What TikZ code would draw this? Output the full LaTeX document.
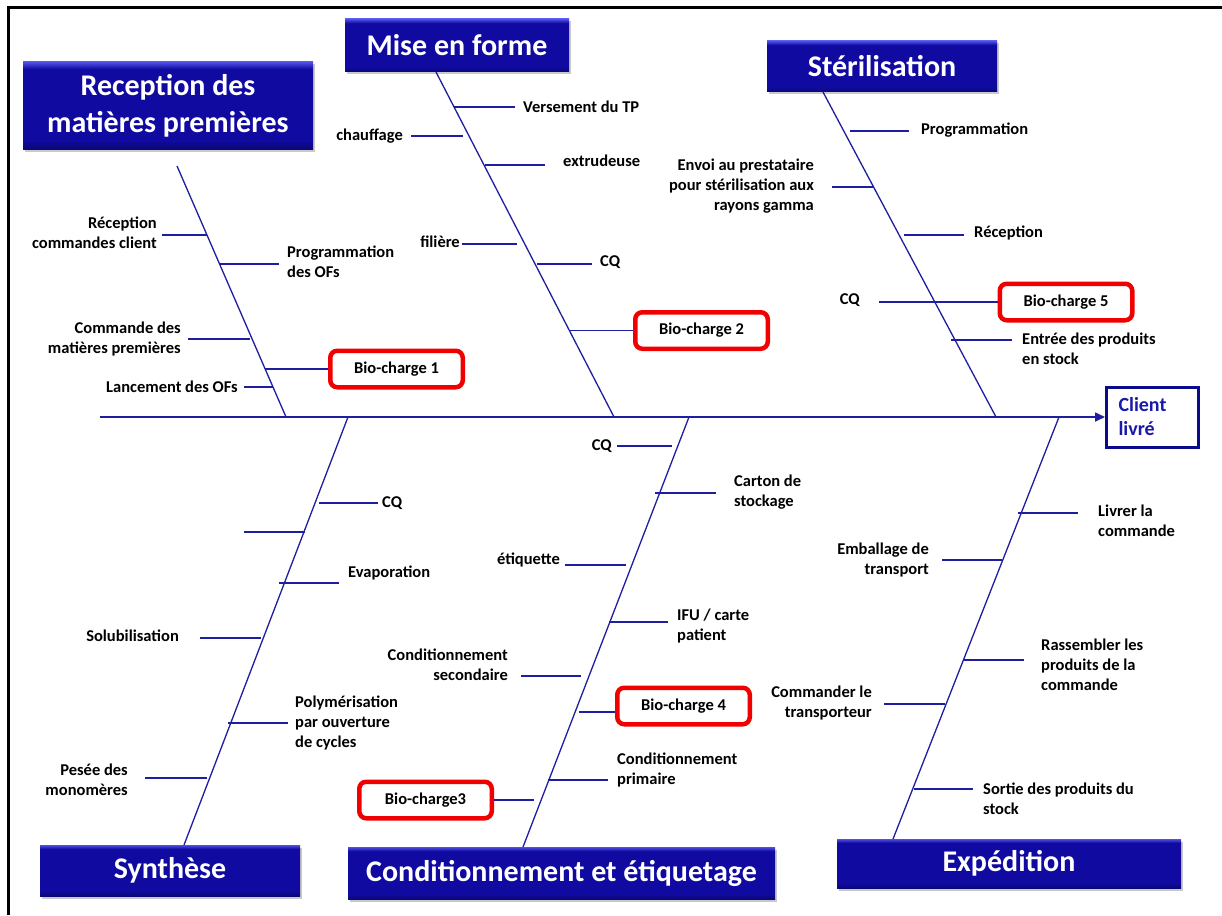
\documentclass[tikz,border=0pt]{standalone}
\usepackage{fontspec}
\setmainfont{Carlito}
\usetikzlibrary{arrows.meta,shadows}
\definecolor{bonec}{RGB}{30,30,160}
\definecolor{hdrM}{RGB}{16,10,160}
\definecolor{hdrA}{RGB}{80,80,230}
\definecolor{hdrB}{RGB}{10,8,118}
\definecolor{cliec}{RGB}{10,10,140}
\definecolor{clitxt}{RGB}{25,25,170}
\definecolor{bcred}{RGB}{240,0,0}
\pgfdeclareverticalshading{hdrshade}{100bp}{color(0bp)=(hdrB); color(25bp)=(hdrB); color(30bp)=(hdrM); color(71bp)=(hdrM); color(75bp)=(hdrA); color(100bp)=(hdrA)}
\newcommand\fbLbl{\fontsize{16.5}{20}\selectfont\bfseries}
\newcommand\fbHdr{\fontsize{30}{37}\selectfont\bfseries}
\newcommand\fbCli{\fontsize{20}{24}\selectfont\bfseries}
\begin{document}
\begin{tikzpicture}[x=1pt,y=-1pt,
  hdr/.style={shading=hdrshade, draw=none, text=white, font=\fbHdr, align=center, inner sep=0pt,
    drop shadow={shadow xshift=1.5pt,shadow yshift=-2.5pt,opacity=0.35,fill=black!60}},
  lbl/.style={font=\fbLbl, inner sep=0pt, text=black},
  lblL/.style={lbl, align=left, anchor=west},
  lblR/.style={lbl, align=right, anchor=east},
  bcbox/.style={draw=bcred, line width=4.5pt, rounded corners=7pt, fill=white, font=\fbLbl,
    minimum width=132.5pt, minimum height=36.5pt, inner sep=0pt},
  bone/.style={draw=bonec, line width=1.3pt},
  twig/.style={draw=bonec, line width=1.1pt},
]
\useasboundingbox (0,0) rectangle (1222,915);
\fill[white] (0,0) rectangle (1222,915);
% frame
\draw[line width=3pt] (8.5,915) -- (8.5,7.5) -- (1222,7.5);

% header boxes
\node[hdr, minimum width=290pt, minimum height=87pt] (rec) at (168,105.5) {Reception des\\matières premières};
\node[hdr, minimum width=224pt, minimum height=53pt] (mise) at (457,45.5) {Mise en forme};
\node[hdr, minimum width=230pt, minimum height=51pt] (steril) at (882,66.5) {Stérilisation};
\node[hdr, minimum width=260pt, minimum height=51pt] (synth) at (170,870.5) {Synthèse};
\node[hdr, minimum width=427pt, minimum height=52pt] (cond) at (561.5,873) {Conditionnement et étiquetage};
\node[hdr, minimum width=344pt, minimum height=49pt] (exped) at (1009,863.5) {Expédition};

% client
\node[draw=cliec, line width=3pt, minimum width=92pt, minimum height=60pt, text width=68pt,
  align=left, font=\fbCli, text=clitxt, inner sep=0pt] (client) at (1152.5,417) {Client\\livré};

% spine
\coordinate (sp0) at (100,417);
\draw[bone, line width=1.6pt, -{Triangle[length=10pt,width=9pt]}] (sp0) -- (client.west);

% bones
\coordinate (recA) at (177,166);  \coordinate (recB) at (286,417);
\coordinate (miseA) at (436,72);  \coordinate (miseB) at (614,417);
\coordinate (stA) at (823,92);    \coordinate (stB) at (996,417);
\coordinate (syA) at (348,417);   \coordinate (syB) at (184,845);
\coordinate (coA) at (689,417);   \coordinate (coB) at (523,847);
\coordinate (exA) at (1059,417);  \coordinate (exB) at (893,839);
\draw[bone] (recA) -- (recB);
\draw[bone] (miseA) -- (miseB);
\draw[bone] (stA) -- (stB);
\draw[bone] (syA) -- (syB);
\draw[bone] (coA) -- (coB);
\draw[bone] (exA) -- (exB);

% ---- Reception
\node[lblR] (r1) at (157,233) {Réception\\commandes client};
\coordinate (r1a) at (162,235); \coordinate (r1b) at (207,235);
\draw[twig] (r1a) -- (r1b);
\node[lblL] (r2) at (287,262) {Programmation\\des OFs};
\coordinate (r2a) at (219,264); \coordinate (r2b) at (279,264);
\draw[twig] (r2a) -- (r2b);
\node[lblR] (r3) at (181,339) {Commande des\\matières premières};
\coordinate (r3a) at (188,339); \coordinate (r3b) at (250,339);
\draw[twig] (r3a) -- (r3b);
\node[bcbox] (bc1) at (396.5,369) {Bio-charge 1};
\coordinate (r4a) at (265,369);
\draw[twig] (r4a) -- (r4a -| bc1.west);
\node[lblR] (r5) at (238,387) {Lancement des OFs};
\coordinate (r5a) at (244,387); \coordinate (r5b) at (273,387);
\draw[twig] (r5a) -- (r5b);

% ---- Mise en forme
\node[lblL] (m1) at (523,107) {Versement du TP};
\coordinate (m1a) at (454,107); \coordinate (m1b) at (515,107);
\draw[twig] (m1a) -- (m1b);
\node[lblR] (m2) at (403,136) {chauffage};
\coordinate (m2a) at (411,136); \coordinate (m2b) at (463,136);
\draw[twig] (m2a) -- (m2b);
\node[lblL] (m3) at (563,161) {extrudeuse};
\coordinate (m3a) at (485,165); \coordinate (m3b) at (545,165);
\draw[twig] (m3a) -- (m3b);
\node[lblR] (m4) at (460,242) {filière};
\coordinate (m4a) at (462,244); \coordinate (m4b) at (517,244);
\draw[twig] (m4a) -- (m4b);
\node[lblL] (m5) at (600,262) {CQ};
\coordinate (m5a) at (537,264); \coordinate (m5b) at (592,264);
\draw[twig] (m5a) -- (m5b);
\node[bcbox] (bc2) at (701.5,330.5) {Bio-charge 2};
\coordinate (m6a) at (569,330.5);
\draw[twig] (m6a) -- (m6a -| bc2.west);

% ---- Sterilisation
\node[lblL] (s1) at (921,130) {Programmation};
\coordinate (s1a) at (850,131); \coordinate (s1b) at (909,131);
\draw[twig] (s1a) -- (s1b);
\node[lblR] (s2) at (814,186) {Envoi au prestataire\\pour stérilisation aux\\rayons gamma};
\coordinate (s2a) at (832,187); \coordinate (s2b) at (873,187);
\draw[twig] (s2a) -- (s2b);
\node[lblL] (s3) at (974,233) {Réception};
\coordinate (s3a) at (904,235); \coordinate (s3b) at (964,235);
\draw[twig] (s3a) -- (s3b);
\node[lblR] (s4) at (860,300) {CQ};
\node[bcbox] (bc5) at (1066,302) {Bio-charge 5};
\coordinate (s4a) at (879,302);
\draw[twig] (s4a) -- (s4a -| bc5.west);
\node[lblL] (s5) at (1022,349) {Entrée des produits\\en stock};
\coordinate (s5a) at (951,340); \coordinate (s5b) at (1012,340);
\draw[twig] (s5a) -- (s5b);

% ---- Synthese
\node[lblL] (y1) at (382,503) {CQ};
\coordinate (y1a) at (319,503); \coordinate (y1b) at (378,503);
\draw[twig] (y1a) -- (y1b);
\coordinate (y2a) at (244,532); \coordinate (y2b) at (305,532);
\draw[twig] (y2a) -- (y2b);
\node[lblL] (y3) at (348,573) {Evaporation};
\coordinate (y3a) at (279,583); \coordinate (y3b) at (339,583);
\draw[twig] (y3a) -- (y3b);
\node[lblR] (y4) at (179,636) {Solubilisation};
\coordinate (y4a) at (200,638); \coordinate (y4b) at (261,638);
\draw[twig] (y4a) -- (y4b);
\node[lblL] (y5) at (295,723) {Polymérisation\\par ouverture\\de cycles};
\coordinate (y5a) at (228,723); \coordinate (y5b) at (288,723);
\draw[twig] (y5a) -- (y5b);
\node[lblR] (y6) at (128,780) {Pesée des\\monomères};
\coordinate (y6a) at (145,778); \coordinate (y6b) at (207,778);
\draw[twig] (y6a) -- (y6b);

% ---- Conditionnement
\node[lblR] (c1) at (612,446) {CQ};
\coordinate (c1a) at (617,446); \coordinate (c1b) at (672,446);
\draw[twig] (c1a) -- (c1b);
\node[lblL] (c2) at (734,492) {Carton de\\stockage};
\coordinate (c2a) at (655,493); \coordinate (c2b) at (716,493);
\draw[twig] (c2a) -- (c2b);
\node[lblR] (c3) at (560,560) {étiquette};
\coordinate (c3a) at (565,565); \coordinate (c3b) at (626,565);
\draw[twig] (c3a) -- (c3b);
\node[lblL] (c4) at (677,626) {IFU / carte\\patient};
\coordinate (c4a) at (609,622); \coordinate (c4b) at (668,622);
\draw[twig] (c4a) -- (c4b);
\node[lblR] (c5) at (508,665) {Conditionnement\\secondaire};
\coordinate (c5a) at (521,676); \coordinate (c5b) at (581,676);
\draw[twig] (c5a) -- (c5b);
\node[bcbox] (bc4) at (683.5,706) {Bio-charge 4};
\coordinate (c6a) at (579,712);
\draw[twig] (c6a) -- (c6a -| bc4.west);
\node[lblL] (c7) at (617,770) {Conditionnement\\primaire};
\coordinate (c7a) at (548,780); \coordinate (c7b) at (608,780);
\draw[twig] (c7a) -- (c7b);
\node[bcbox] (bc3) at (425.5,800) {Bio-charge3};
\coordinate (c8b) at (534,800);
\draw[twig] (c8b -| bc3.east) -- (c8b);

% ---- Expedition
\node[lblL] (e1) at (1098,521) {Livrer la\\commande};
\coordinate (e1a) at (1018,513); \coordinate (e1b) at (1078,513);
\draw[twig] (e1a) -- (e1b);
\node[lblR] (e2) at (929,560) {Emballage de\\transport};
\coordinate (e2a) at (942,560); \coordinate (e2b) at (1002,560);
\draw[twig] (e2a) -- (e2b);
\node[lblL] (e3) at (1041,665) {Rassembler les\\produits de la\\commande};
\coordinate (e3a) at (964,660); \coordinate (e3b) at (1024,660);
\draw[twig] (e3a) -- (e3b);
\node[lblR] (e4) at (872,703) {Commander le\\transporteur};
\coordinate (e4a) at (884,704); \coordinate (e4b) at (945,704);
\draw[twig] (e4a) -- (e4b);
\node[lblL] (e5) at (983,799) {Sortie des produits du\\stock};
\coordinate (e5a) at (914,789); \coordinate (e5b) at (973,789);
\draw[twig] (e5a) -- (e5b);
\end{tikzpicture}
\end{document}
